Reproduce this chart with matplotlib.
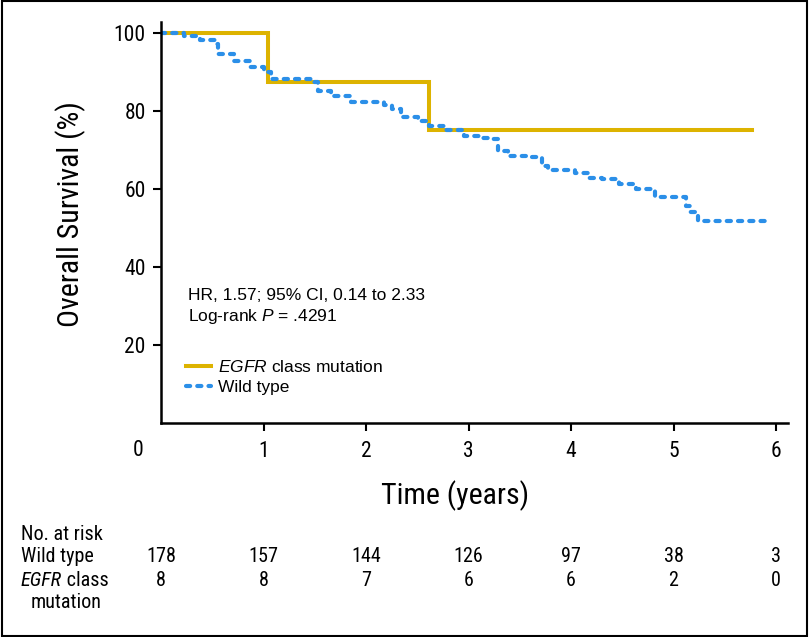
import matplotlib
matplotlib.use('Agg')
import matplotlib.pyplot as plt
import matplotlib.transforms as mtransforms
from matplotlib.patches import Rectangle

cond = ['Roboto Condensed', 'DejaVu Sans']
plain = ['Liberation Sans', 'DejaVu Sans']
plt.rcParams['font.family'] = cond
plt.rcParams['mathtext.fontset'] = 'custom'
plt.rcParams['mathtext.rm'] = 'Liberation Sans'
plt.rcParams['mathtext.it'] = 'Liberation Sans:italic'

# Kaplan-Meier curves
egfr_time = [0, 1.04, 2.61, 5.77]
egfr_surv = [100, 87.5, 75, 75]

wild_time = [0, 0.22, 0.38, 0.53, 0.56, 0.71, 0.87, 1.0, 1.07, 1.46, 1.53, 1.66,
             1.85, 2.18, 2.25, 2.34, 2.51, 2.61, 2.77, 2.96, 3.11, 3.19, 3.29,
             3.39, 3.62, 3.72, 3.78, 4.04, 4.17, 4.30, 4.47, 4.63, 4.82, 5.12,
             5.16, 5.24, 5.89]
wild_surv = [100, 99.3, 98.3, 97.2, 94.6, 92.9, 91.2, 89.9, 88.2, 87.3, 85.2, 83.9,
             82.4, 81.5, 80.5, 78.4, 77.5, 76.2, 75.1, 73.7, 73.0, 72.8, 69.8,
             68.4, 68.1, 66.0, 64.9, 64.1, 62.7, 62.6, 61.3, 60.0, 57.9, 55.7,
             54.2, 51.9, 51.9]

# number at risk table
risk_times = [0, 1, 2, 3, 4, 5, 6]
risk_wild = [178, 157, 144, 126, 97, 38, 3]
risk_egfr = [8, 8, 7, 6, 6, 2, 0]

x_ticks = [1, 2, 3, 4, 5, 6]
y_ticks = [20, 40, 60, 80, 100]

gold = '#DDB300'
blue = '#2B8FE8'

W, H = 809, 637
fig = plt.figure(figsize=(W / 100, H / 100), dpi=100)
ax = fig.add_axes([161 / W, (H - 423) / H, (788 - 161) / W, (423 - 22) / H])

ax.plot(egfr_time, egfr_surv, drawstyle='steps-post', color=gold, lw=2.9,
        solid_joinstyle='miter', label='$\\it{EGFR}$ class mutation')
ax.plot(wild_time, wild_surv, drawstyle='steps-post', color=blue, lw=3.0,
        dashes=(1.0, 1.7), dash_capstyle='round', label='Wild type')

ax.set_xlim(0, 6.117)
ax.set_ylim(0, 102.8)
ax.set_xticks(x_ticks)
ax.set_yticks(y_ticks)
ax.tick_params(axis='both', labelsize=15.5, length=6, width=1.5, direction='out')
ax.tick_params(axis='x', pad=7)
ax.tick_params(axis='y', pad=5)
for s in ['top', 'right']:
    ax.spines[s].set_visible(False)
for s in ['left', 'bottom']:
    ax.spines[s].set_linewidth(1.8)

# origin label
fig.text(138 / W, 1 - 450 / H, '0', fontsize=15.5, ha='center', va='center')

ax.set_ylabel('Overall Survival (%)', fontsize=21.5)
ax.yaxis.set_label_coords(-0.12, 0.52)
fig.text(455 / W, 1 - 496 / H, 'Time (years)', fontsize=21.5, ha='center', va='center')

# annotation
fig.text(188 / W, 1 - 296 / H, 'HR, 1.57; 95% CI, 0.14 to 2.33', fontsize=12.5,
         family=plain, va='center')
fig.text(188 / W, 1 - 317 / H, 'Log-rank $\\it{P}$ = .4291', fontsize=12.5,
         family=plain, va='center')

leg = ax.legend(loc='center left', bbox_to_anchor=(186 / W, 1 - 377 / H),
                bbox_transform=fig.transFigure, frameon=False, handlelength=1.45,
                handletextpad=0.4, labelspacing=0.3, borderpad=0, borderaxespad=0,
                prop={'family': plain, 'size': 12.5})

# risk table
renderer = fig.canvas.get_renderer()


def mixed_text(x, y, parts, **kw):
    for s, style in parts:
        t = fig.text(x, y, s, style=style, **kw)
        x = t.get_window_extent(renderer).x1 / W


tr = mtransforms.blended_transform_factory(ax.transData, fig.transFigure)
fig.text(21 / W, 1 - 534 / H, 'No. at risk', fontsize=14.5, va='center')
fig.text(21 / W, 1 - 556 / H, 'Wild type', fontsize=14.5, va='center')
mixed_text(21 / W, 1 - 580 / H, [('EGFR', 'italic'), (' class', 'normal')],
           fontsize=14.5, va='center')
fig.text(31 / W, 1 - 602 / H, 'mutation', fontsize=14.5, va='center')
for x, a, b in zip(risk_times, risk_wild, risk_egfr):
    fig.text(x, 1 - 556 / H, str(a), fontsize=14.5, ha='center', va='center', transform=tr)
    fig.text(x, 1 - 580 / H, str(b), fontsize=14.5, ha='center', va='center', transform=tr)

# outer frame
fig.patches.append(Rectangle((0.002, 0.002), 0.996, 0.996, transform=fig.transFigure,
                             fill=False, edgecolor='black', lw=1.5))

fig.savefig('out.png', dpi=100)
